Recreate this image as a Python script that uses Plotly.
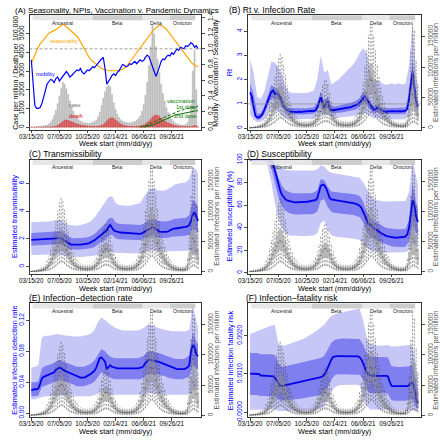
import pandas as pd
import plotly.graph_objects as go

W, H = 440, 440
FONT = "Liberation Sans, Arial, Helvetica, sans-serif"

# ------------------------------------------------------------------ data
START = pd.Timestamp("2020-03-15")
N_WEEKS = 96
week_dates = [START + pd.Timedelta(weeks=i) for i in range(N_WEEKS)]
BAND_WEEKS = list(range(0, 95, 2)) + [95]
band_dates = [week_dates[i] for i in BAND_WEEKS]

x_tick_labels = ["03/15/20", "07/05/20", "10/25/20", "02/14/21", "06/06/21", "09/26/21"]

variant_names = ["Ancestral", "Beta", "Delta", "Omicron"]
variant_edges = ["2020-03-20", "2020-11-15", "2021-06-02", "2021-09-19", "2021-12-29"]

# Panel A (weekly)
cases_per_million = [
    3, 8, 15, 25, 35, 45, 55, 70, 90, 120,
    170, 260, 400, 620, 900, 1250, 1650, 2050, 2400, 2300,
    2050, 1750, 1400, 1100, 850, 650, 500, 400, 330, 280,
    240, 220, 210, 210, 230, 260, 300, 380, 550, 800,
    1150, 1550, 1900, 2150, 2250, 2150, 1750, 1300, 950, 700,
    520, 400, 330, 280, 250, 230, 230, 240, 260, 300,
    360, 450, 600, 850, 1200, 1700, 2400, 3300, 4300, 5450,
    5000, 4300, 3600, 2900, 2300, 1800, 1400, 1050, 780, 580,
    420, 310, 230, 180, 150, 130, 120, 120, 140, 250,
    600, 1200, 3000, 4100, 2000, 0]
deaths_per_100k = [
    0, 0, 0, 0, 1, 1, 2, 3, 4, 6,
    8, 12, 18, 30, 50, 90, 150, 230, 310, 370,
    380, 360, 330, 290, 250, 210, 175, 145, 120, 100,
    85, 70, 60, 52, 47, 45, 45, 48, 55, 70,
    100, 150, 230, 330, 430, 490, 500, 460, 390, 310,
    230, 170, 125, 95, 75, 60, 50, 45, 43, 45,
    50, 58, 70, 90, 120, 170, 240, 330, 430, 530,
    610, 650, 630, 570, 490, 410, 340, 280, 230, 185,
    145, 115, 90, 70, 55, 45, 38, 32, 28, 26,
    30, 40, 55, 75, 90, 0]
seasonality = [
    0.82, 0.86, 0.92, 0.98, 1.02, 1.06, 1.09, 1.12, 1.15, 1.18,
    1.20, 1.21, 1.22, 1.23, 1.24, 1.26, 1.28, 1.30, 1.31, 1.30,
    1.28, 1.26, 1.25, 1.23, 1.21, 1.19, 1.16, 1.13, 1.09, 1.04,
    1.00, 0.96, 0.92, 0.89, 0.86, 0.84, 0.82, 0.80, 0.78, 0.76,
    0.75, 0.74, 0.73, 0.73, 0.72, 0.72, 0.72, 0.72, 0.72, 0.72,
    0.73, 0.73, 0.74, 0.75, 0.77, 0.80, 0.83, 0.86, 0.89, 0.92,
    0.95, 0.98, 1.01, 1.04, 1.07, 1.11, 1.14, 1.17, 1.20, 1.23,
    1.25, 1.27, 1.29, 1.30, 1.30, 1.29, 1.27, 1.25, 1.22, 1.19,
    1.16, 1.13, 1.10, 1.07, 1.04, 1.01, 0.98, 0.94, 0.91, 0.88,
    0.85, 0.83, 0.81, 0.79, 0.78, 0.77]
mobility = [
    0.86, 0.55, 0.28, 0.24, 0.24, 0.25, 0.30, 0.38, 0.47, 0.55,
    0.58, 0.61, 0.60, 0.57, 0.62, 0.64, 0.59, 0.62, 0.65, 0.68,
    0.71, 0.68, 0.64, 0.66, 0.69, 0.71, 0.73, 0.72, 0.75, 0.70,
    0.68, 0.71, 0.73, 0.72, 0.75, 0.77, 0.76, 0.79, 0.82, 0.84,
    0.87, 0.89, 0.75, 0.55, 0.58, 0.62, 0.66, 0.68, 0.66, 0.70,
    0.72, 0.76, 0.80, 0.79, 0.77, 0.78, 0.81, 0.80, 0.82, 0.84,
    0.81, 0.83, 0.86, 0.84, 0.85, 0.89, 0.92, 0.90, 0.84, 0.78,
    0.70, 0.65, 0.70, 0.78, 0.84, 0.87, 0.86, 0.90, 0.92, 0.91,
    0.95, 0.93, 0.97, 1.00, 0.98, 1.02, 1.01, 1.00, 1.04, 1.03,
    1.05, 1.08, 1.06, 1.02, 1.04, 1.00]
DOSE1_START = 62
vacc_dose1 = [
    0.0, 0.005, 0.012, 0.02, 0.03, 0.04, 0.05, 0.06, 0.07, 0.08,
    0.09, 0.10, 0.11, 0.12, 0.13, 0.14, 0.15, 0.16, 0.17, 0.18,
    0.19, 0.20, 0.21, 0.215, 0.22, 0.23, 0.235, 0.24, 0.245, 0.25,
    0.255, 0.26, 0.265, 0.27]
DOSE2_START = 64
vacc_dose2 = [
    0.0, 0.004, 0.008, 0.013, 0.02, 0.028, 0.036, 0.045, 0.055, 0.065,
    0.075, 0.085, 0.095, 0.105, 0.115, 0.125, 0.135, 0.145, 0.155, 0.16,
    0.165, 0.17, 0.175, 0.18, 0.185, 0.19, 0.195, 0.2, 0.2, 0.205,
    0.21, 0.21]

# Estimated infections per million (thousands), weekly box statistics
inf_lo_k = [
    0.05, 0.1, 0.15, 0.2, 0.25, 0.35, 0.5, 0.7, 1, 1.5,
    2.2, 3.5, 5, 7, 9, 12, 14, 16, 15, 13,
    10, 8, 6, 4.5, 3.5, 2.7, 2.1, 1.7, 1.4, 1.3,
    1.2, 1.1, 1.1, 1.2, 1.3, 1.6, 2, 2.7, 3.8, 5.4,
    7.5, 9, 10, 10, 9.5, 8, 6, 4.2, 3, 2.2,
    1.8, 1.5, 1.3, 1.2, 1.1, 1.1, 1.2, 1.3, 1.5, 1.9,
    2.4, 3.2, 4.5, 6.5, 9, 12, 16, 20, 24, 25,
    22, 18, 14, 11, 8.5, 6.5, 5, 4, 3, 2.4,
    1.8, 1.4, 1.1, 0.9, 0.8, 0.7, 0.7, 0.8, 1, 1.8,
    4, 7, 9, 9, 7, 5]
inf_q1_k = [
    0.2, 0.35, 0.5, 0.65, 0.85, 1.1, 1.6, 2.1, 3.2, 5,
    7, 10.5, 15, 20, 25, 30, 35, 38, 36, 31,
    26, 21, 16, 12, 9.3, 7.2, 5.7, 4.7, 4, 3.6,
    3.3, 3.2, 3.2, 3.3, 3.6, 4.3, 5.4, 7.2, 10, 14,
    19, 23, 25, 25, 24, 20, 15, 11, 7.9, 5.8,
    4.7, 4, 3.6, 3.3, 3.2, 3.2, 3.3, 3.6, 4.2, 5,
    6.5, 8.6, 12, 17, 24, 32, 41, 50, 56, 56,
    50, 42, 34, 27, 22, 17, 14, 11, 8.3, 6.5,
    5, 4, 3.2, 2.7, 2.4, 2.2, 2.2, 2.3, 2.9, 5.5,
    12, 22, 30, 28, 20, 13]
inf_med_k = [
    0.3, 0.5, 0.7, 0.9, 1.2, 1.6, 2.2, 3.0, 4.5, 7,
    10, 15, 21, 28, 35, 42, 48, 51, 49, 43,
    36, 29, 22, 17, 13, 10, 8, 6.5, 5.5, 5,
    4.6, 4.4, 4.4, 4.6, 5, 6, 7.5, 10, 14, 20,
    27, 33, 37, 38, 34, 28, 21, 15, 11, 8,
    6.5, 5.5, 5, 4.6, 4.4, 4.4, 4.6, 5, 5.8, 7,
    9, 12, 17, 24, 33, 45, 58, 70, 79, 78,
    69, 58, 47, 38, 30, 24, 19, 15, 11.5, 9,
    7, 5.5, 4.5, 3.8, 3.3, 3, 3, 3.2, 4, 8,
    20, 38, 55, 50, 35, 22]
inf_q3_k = [
    0.4, 0.7, 0.95, 1.2, 1.6, 2.2, 3, 4, 6, 9.5,
    13.5, 20, 28, 38, 47, 57, 65, 70, 66, 58,
    49, 39, 30, 23, 17.5, 13.5, 10.8, 8.8, 7.4, 6.8,
    6.2, 5.9, 5.9, 6.2, 6.8, 8.1, 10, 13.5, 19, 27,
    36, 42, 45, 46, 43, 36, 28, 20, 15, 10.8,
    8.8, 7.4, 6.8, 6.2, 5.9, 5.9, 6.2, 6.8, 7.8, 9.5,
    12, 16, 23, 32, 45, 61, 78, 93, 104, 104,
    93, 78, 63, 51, 40, 32, 26, 20, 15.5, 12,
    9.5, 7.4, 6, 5.1, 4.5, 4, 4, 4.3, 5.4, 11,
    30, 62, 92, 85, 58, 36]
inf_hi_k = [
    1, 1.5, 2, 2.6, 3.4, 4.5, 6.2, 8.5, 12, 18,
    26, 38, 52, 68, 84, 100, 114, 122, 116, 102,
    86, 69, 53, 41, 31, 24, 19, 15.5, 13, 12,
    11, 10.5, 10.5, 11, 12, 14, 17.5, 23, 32, 45,
    58, 70, 77, 78, 71, 59, 45, 33, 24, 18,
    15, 12.5, 11.5, 10.5, 10, 10, 10.5, 11.5, 13, 16,
    20, 27, 38, 54, 75, 100, 127, 152, 170, 168,
    150, 127, 103, 83, 66, 52, 42, 33, 25, 20,
    15.5, 12.5, 10, 8.5, 7.5, 7, 7, 7.5, 9.5, 22,
    65, 125, 175, 160, 110, 70]

# Panel B: Rt
rt_median = [
    1.48, 1.30, 0.85, 0.50, 0.44, 0.45, 0.50, 0.58, 0.75, 0.95,
    1.10, 1.28, 1.50, 1.55, 1.42, 1.42, 1.40, 1.28, 1.05, 0.88,
    0.80, 0.74, 0.70, 0.68, 0.67, 0.69, 0.67, 0.66, 0.68, 0.66,
    0.68, 0.69, 0.67, 0.69, 0.70, 0.71, 0.71, 0.74, 0.85, 1.10,
    1.28, 1.05, 0.82, 1.05, 1.08, 0.80, 0.74, 0.74, 0.75, 0.76,
    0.77, 0.79, 0.80, 0.81, 0.82, 0.84, 0.85, 0.87, 0.90, 0.92,
    0.95, 0.99, 1.05, 1.14, 1.25, 1.32, 1.20, 1.07, 0.95, 0.85,
    0.76, 0.78, 0.86, 0.80, 0.74, 0.71, 0.69, 0.67, 0.69, 0.70,
    0.68, 0.70, 0.69, 0.70, 0.68, 0.70, 0.69, 0.71, 0.72, 0.80,
    1.20, 1.85, 2.30, 1.70, 1.10, 0.90]
rt_95hi = [2.85, 2.3, 1.3, 1.2, 1.5, 2.2, 2.75, 2.7, 2.5, 2.2,
           1.7, 1.5, 1.45, 1.45, 1.45, 1.45, 1.45, 1.5, 1.55, 2.0,
           3.0, 2.3, 2.4, 1.8, 1.9, 2.0, 2.15, 2.3, 2.45, 2.6,
           2.8, 3.1, 3.3, 3.1, 2.4, 1.9, 2.0, 1.9, 1.8, 1.8,
           1.85, 1.8, 1.85, 1.8, 1.85, 2.6, 4.4, 2.2, 1.8]
rt_95lo = [0.55, 0.35, 0.25, 0.28, 0.35, 0.55, 0.8, 0.75, 0.7, 0.5,
           0.42, 0.38, 0.37, 0.37, 0.37, 0.37, 0.37, 0.38, 0.4, 0.5,
           0.65, 0.5, 0.55, 0.45, 0.42, 0.43, 0.45, 0.47, 0.48, 0.5,
           0.52, 0.57, 0.65, 0.6, 0.48, 0.4, 0.42, 0.38, 0.36, 0.36,
           0.36, 0.36, 0.36, 0.36, 0.37, 0.6, 1.1, 0.55, 0.45]
rt_50hi = [1.85, 1.4, 0.6, 0.62, 0.9, 1.3, 1.78, 1.65, 1.6, 1.25,
           0.92, 0.83, 0.82, 0.82, 0.82, 0.82, 0.82, 0.84, 0.86, 1.05,
           1.5, 1.1, 1.3, 0.92, 0.9, 0.93, 0.96, 0.99, 1.03, 1.07,
           1.13, 1.25, 1.5, 1.4, 1.1, 0.92, 0.98, 0.85, 0.82, 0.82,
           0.82, 0.82, 0.82, 0.82, 0.85, 1.45, 2.85, 1.35, 1.1]
rt_50lo = [1.15, 0.75, 0.34, 0.38, 0.58, 0.9, 1.25, 1.2, 1.2, 0.9,
           0.66, 0.58, 0.56, 0.56, 0.56, 0.56, 0.56, 0.58, 0.6, 0.7,
           1.05, 0.65, 0.88, 0.62, 0.62, 0.63, 0.65, 0.68, 0.7, 0.73,
           0.77, 0.87, 1.05, 0.98, 0.76, 0.63, 0.66, 0.6, 0.57, 0.57,
           0.57, 0.57, 0.57, 0.57, 0.59, 1.0, 1.8, 0.9, 0.72]

# Panel C: transmissibility
tr_median = [
    1.93, 1.94, 1.95, 1.95, 1.96, 1.97, 1.98, 1.99, 2.0, 2.0,
    2.01, 2.02, 2.03, 2.04, 2.05, 2.07, 2.08, 2.05, 1.98, 1.88,
    1.78, 1.68, 1.62, 1.58, 1.57, 1.57, 1.58, 1.58, 1.59, 1.6,
    1.61, 1.63, 1.66, 1.7, 1.76, 1.82, 1.9, 2.0, 2.1, 2.22,
    2.35, 2.42, 2.5, 2.62, 2.85, 3.0, 2.8, 2.62, 2.55, 2.5,
    2.48, 2.46, 2.45, 2.44, 2.43, 2.42, 2.41, 2.4, 2.39, 2.38,
    2.37, 2.36, 2.36, 2.4, 2.48, 2.57, 2.65, 2.7, 2.75, 2.85,
    2.82, 2.72, 2.6, 2.52, 2.5, 2.49, 2.48, 2.5, 2.55, 2.62,
    2.7, 2.74, 2.75, 2.76, 2.78, 2.8, 2.82, 2.84, 2.86, 2.9,
    3.0, 3.3, 3.75, 3.93, 3.6, 3.3]
tr_95hi = [3.2, 3.2, 3.2, 3.2, 3.22, 3.25, 3.3, 3.35, 3.4, 3.3,
           3.1, 3.0, 2.95, 2.95, 3.0, 3.05, 3.15, 3.3, 3.55, 3.9,
           4.3, 4.6, 5.0, 5.1, 4.6, 4.45, 4.4, 4.4, 4.4, 4.45,
           4.5, 4.6, 5.0, 5.4, 5.6, 5.7, 5.5, 5.5, 5.5, 5.6,
           5.8, 5.95, 6.0, 6.05, 6.1, 6.3, 7.2, 7.0, 6.7]
tr_95lo = [0.83, 0.83, 0.84, 0.85, 0.85, 0.86, 0.87, 0.88, 0.88, 0.82,
           0.76, 0.72, 0.7, 0.7, 0.7, 0.71, 0.72, 0.74, 0.78, 0.85,
           0.95, 1.0, 1.1, 1.05, 1.0, 0.97, 0.96, 0.95, 0.95, 0.95,
           0.95, 0.96, 1.0, 1.08, 1.15, 1.15, 1.08, 1.05, 1.05, 1.06,
           1.1, 1.12, 1.12, 1.13, 1.14, 1.15, 1.0, 0.85, 0.8]
tr_50hi = [2.43, 2.44, 2.45, 2.46, 2.48, 2.5, 2.52, 2.54, 2.56, 2.5,
           2.3, 2.12, 2.05, 2.05, 2.06, 2.08, 2.12, 2.2, 2.35, 2.6,
           2.9, 3.1, 3.45, 3.55, 3.2, 3.1, 3.07, 3.05, 3.03, 3.02,
           3.0, 3.0, 3.1, 3.3, 3.4, 3.45, 3.3, 3.25, 3.25, 3.3,
           3.4, 3.45, 3.47, 3.5, 3.52, 3.7, 4.8, 4.6, 4.3]
tr_50lo = [1.52, 1.53, 1.54, 1.55, 1.56, 1.57, 1.58, 1.6, 1.62, 1.55,
           1.4, 1.27, 1.22, 1.22, 1.23, 1.25, 1.28, 1.33, 1.42, 1.58,
           1.8, 1.95, 2.2, 2.3, 2.05, 1.98, 1.96, 1.95, 1.94, 1.93,
           1.92, 1.92, 2.0, 2.1, 2.2, 2.25, 2.1, 2.05, 2.05, 2.08,
           2.15, 2.18, 2.2, 2.22, 2.23, 2.3, 2.7, 2.6, 2.4]

# Panel D: susceptibility (%)
su_median = [
    100, 100, 100, 100, 100, 100, 100, 100, 100, 100,
    100, 100, 99, 97, 91, 84, 78, 73, 69, 66.5,
    65, 64, 63.5, 63, 62.6, 62.4, 62.3, 62.3, 62.3, 62.4,
    62.5, 62.7, 62.9, 63.1, 63.3, 63.5, 63.8, 64.3, 66, 72,
    77, 78, 77.5, 75, 70, 66.5, 65, 64.5, 64.2, 64,
    63.8, 63.6, 63.4, 63.2, 63, 62.8, 62.5, 62.2, 61.9, 61.5,
    61, 60.3, 59.3, 57.5, 54, 49.5, 45.5, 43.5, 42, 41,
    40, 38.8, 37.5, 36.3, 35.2, 34.2, 33.4, 32.7, 32.2, 31.8,
    31.5, 31.3, 31.2, 31.1, 31.1, 31.2, 31.4, 31.7, 32.2, 34,
    40, 55, 64.5, 60, 50, 45]
su_95hi = [100, 100, 100, 100, 100, 100, 100, 99.5, 96, 92.5,
           91, 90.5, 90.5, 90.5, 90.5, 90.5, 90.5, 90.5, 90.5, 91.5,
           95, 94, 90, 88.5, 88, 87.5, 87, 86.5, 86, 85.5,
           85, 84, 80, 74, 69, 65, 64, 63.5, 63, 63,
           63, 63, 63, 63, 63.5, 72, 99, 85, 78]
su_95lo = [100, 100, 100, 100, 99.5, 94, 80, 62, 48, 40,
           35, 33, 32.5, 32.5, 32.5, 32.5, 32.5, 32.5, 33, 35,
           44, 46, 38, 33, 32, 31.5, 31.5, 31, 31, 30.5,
           30, 29, 26, 22, 20, 19, 18.5, 18.2, 18, 18,
           18, 18, 18, 18, 18.2, 20, 26, 24, 22]
su_50hi = [100, 100, 100, 100, 100, 100, 99, 93, 84, 77,
           73, 71.5, 70.5, 70.3, 70.2, 70.2, 70.3, 70.5, 71, 73,
           83, 82, 76, 72, 71.5, 71, 70.8, 70.5, 70.2, 69.8,
           69.3, 68, 63, 54, 49, 46, 44, 42, 40.5, 39.5,
           39, 38.5, 38.5, 38.5, 39, 47, 80, 62, 56]
su_50lo = [100, 100, 100, 100, 100, 98, 93, 80, 67, 59,
           55, 53, 52, 51.7, 51.5, 51.5, 51.6, 51.8, 52.3, 54,
           64, 65, 58, 54, 53, 52.5, 52.2, 52, 51.7, 51.3,
           50.7, 49.5, 45, 36, 32, 30, 28.5, 27, 25.5, 24.5,
           23.5, 23, 22.8, 22.8, 23.2, 28, 42, 36, 33]

# Panel E: infection-detection rate
dr_median = [
    0.030, 0.031, 0.031, 0.031, 0.032, 0.038, 0.045, 0.047, 0.048, 0.049,
    0.049, 0.050, 0.051, 0.053, 0.056, 0.058, 0.059, 0.058, 0.056, 0.055,
    0.054, 0.053, 0.052, 0.051, 0.050, 0.048, 0.047, 0.046, 0.046, 0.046,
    0.046, 0.047, 0.048, 0.049, 0.051, 0.053, 0.055, 0.059, 0.064, 0.071,
    0.072, 0.070, 0.067, 0.057, 0.060, 0.062, 0.060, 0.059, 0.059, 0.058,
    0.058, 0.058, 0.058, 0.058, 0.058, 0.058, 0.058, 0.058, 0.058, 0.058,
    0.058, 0.058, 0.059, 0.059, 0.061, 0.065, 0.067, 0.069, 0.069, 0.068,
    0.068, 0.067, 0.067, 0.066, 0.066, 0.065, 0.064, 0.062, 0.061, 0.060,
    0.059, 0.058, 0.058, 0.057, 0.057, 0.057, 0.057, 0.057, 0.058, 0.059,
    0.062, 0.080, 0.088, 0.085, 0.076, 0.074]
dr_95hi = [0.059, 0.060, 0.062, 0.098, 0.100, 0.100, 0.101, 0.102, 0.102, 0.101,
           0.100, 0.100, 0.099, 0.099, 0.099, 0.100, 0.101, 0.103, 0.108, 0.118,
           0.124, 0.120, 0.116, 0.113, 0.110, 0.108, 0.107, 0.107, 0.107, 0.107,
           0.107, 0.108, 0.110, 0.114, 0.114, 0.112, 0.110, 0.109, 0.108, 0.107,
           0.106, 0.106, 0.106, 0.106, 0.106, 0.108, 0.140, 0.120, 0.110]
dr_95lo = [0.018, 0.018, 0.019, 0.021, 0.022, 0.022, 0.022, 0.023, 0.023, 0.023,
           0.023, 0.022, 0.022, 0.022, 0.022, 0.022, 0.022, 0.022, 0.023, 0.025,
           0.027, 0.026, 0.025, 0.024, 0.024, 0.024, 0.024, 0.024, 0.024, 0.024,
           0.024, 0.024, 0.024, 0.026, 0.026, 0.025, 0.025, 0.025, 0.024, 0.024,
           0.024, 0.024, 0.024, 0.024, 0.024, 0.024, 0.030, 0.030, 0.029]
dr_50hi = [0.040, 0.040, 0.041, 0.058, 0.061, 0.062, 0.064, 0.067, 0.069, 0.067,
           0.065, 0.064, 0.062, 0.060, 0.060, 0.060, 0.062, 0.064, 0.068, 0.076,
           0.083, 0.080, 0.075, 0.072, 0.071, 0.071, 0.071, 0.071, 0.071, 0.071,
           0.071, 0.072, 0.074, 0.079, 0.080, 0.079, 0.078, 0.077, 0.075, 0.073,
           0.071, 0.070, 0.070, 0.070, 0.071, 0.075, 0.105, 0.092, 0.089]
dr_50lo = [0.022, 0.022, 0.023, 0.034, 0.036, 0.037, 0.039, 0.041, 0.043, 0.042,
           0.040, 0.039, 0.037, 0.035, 0.035, 0.035, 0.036, 0.038, 0.041, 0.047,
           0.053, 0.050, 0.047, 0.045, 0.044, 0.044, 0.044, 0.044, 0.044, 0.044,
           0.044, 0.044, 0.046, 0.050, 0.051, 0.050, 0.050, 0.049, 0.048, 0.046,
           0.045, 0.044, 0.044, 0.044, 0.045, 0.047, 0.062, 0.058, 0.056]

# Panel F: infection-fatality risk
ifr_median = [
    0.00101, 0.00101, 0.00101, 0.00101, 0.00101, 0.00100, 0.00096, 0.00095, 0.00095, 0.00095,
    0.00095, 0.00095, 0.00095, 0.00094, 0.00090, 0.00082, 0.00075, 0.00069, 0.00068, 0.00070,
    0.00071, 0.00072, 0.00073, 0.00074, 0.00075, 0.00076, 0.00077, 0.00078, 0.00079, 0.00080,
    0.00081, 0.00082, 0.00083, 0.00084, 0.00085, 0.00086, 0.00087, 0.00088, 0.00089, 0.00090,
    0.00092, 0.00094, 0.00098, 0.00106, 0.00117, 0.00128, 0.00138, 0.00145, 0.00147, 0.00147,
    0.00147, 0.00147, 0.00147, 0.00147, 0.00147, 0.00146, 0.00146, 0.00146, 0.00146, 0.00146,
    0.00146, 0.00146, 0.00144, 0.00138, 0.00128, 0.00115, 0.00104, 0.00098, 0.00096, 0.00095,
    0.00096, 0.00095, 0.00096, 0.00095, 0.00095, 0.00096, 0.00095, 0.00095, 0.00094, 0.00080,
    0.00069, 0.00068, 0.00068, 0.00068, 0.00068, 0.00068, 0.00068, 0.00068, 0.00068, 0.00068,
    0.00070, 0.00076, 0.00077, 0.00060, 0.00035, 0.00023]
ifr_95hi = [0.00205, 0.00209, 0.00213, 0.00217, 0.00221, 0.00224, 0.00227, 0.00228, 0.00180, 0.00172,
            0.00175, 0.00178, 0.00181, 0.00184, 0.00188, 0.00192, 0.00197, 0.00202, 0.00208, 0.00215,
            0.00222, 0.00230, 0.00242, 0.00252, 0.00257, 0.00260, 0.00262, 0.00264, 0.00266, 0.00268,
            0.00270, 0.00272, 0.00240, 0.00195, 0.00178, 0.00175, 0.00174, 0.00174, 0.00175, 0.00176,
            0.00172, 0.00172, 0.00173, 0.00174, 0.00175, 0.00176, 0.00175, 0.00120, 0.00090]
ifr_95lo = [0.00006, 0.00006, 0.00006, 0.00006, 0.00006, 0.00006, 0.00007, 0.00008, 0.00003, 0.00002,
            0.00002, 0.00002, 0.00003, 0.00003, 0.00003, 0.00004, 0.00004, 0.00005, 0.00005, 0.00006,
            0.00008, 0.00015, 0.00035, 0.00055, 0.00065, 0.00070, 0.00071, 0.00072, 0.00072, 0.00072,
            0.00072, 0.00070, 0.00045, 0.00015, 0.00007, 0.00006, 0.00006, 0.00006, 0.00006, 0.00006,
            0.00004, 0.00004, 0.00004, 0.00004, 0.00004, 0.00004, 0.00005, 0.00002, 0.00002]
ifr_50hi = [0.00155, 0.00155, 0.00155, 0.00152, 0.00152, 0.00152, 0.00152, 0.00150, 0.00128, 0.00118,
            0.00121, 0.00123, 0.00125, 0.00127, 0.00129, 0.00131, 0.00133, 0.00135, 0.00137, 0.00139,
            0.00142, 0.00148, 0.00165, 0.00182, 0.00190, 0.00192, 0.00193, 0.00193, 0.00193, 0.00193,
            0.00193, 0.00192, 0.00178, 0.00155, 0.00145, 0.00145, 0.00145, 0.00145, 0.00144, 0.00144,
            0.00120, 0.00118, 0.00118, 0.00118, 0.00119, 0.00120, 0.00125, 0.00075, 0.00055]
ifr_50lo = [0.00045, 0.00045, 0.00045, 0.00042, 0.00042, 0.00042, 0.00041, 0.00040, 0.00034, 0.00030,
            0.00031, 0.00032, 0.00033, 0.00034, 0.00035, 0.00036, 0.00038, 0.00040, 0.00042, 0.00043,
            0.00045, 0.00050, 0.00065, 0.00085, 0.00097, 0.00099, 0.00099, 0.00099, 0.00099, 0.00099,
            0.00098, 0.00098, 0.00085, 0.00060, 0.00050, 0.00050, 0.00050, 0.00050, 0.00049, 0.00048,
            0.00032, 0.00030, 0.00030, 0.00030, 0.00030, 0.00031, 0.00034, 0.00012, 0.00008]

for arr in [cases_per_million, deaths_per_100k, seasonality, mobility, inf_lo_k, inf_q1_k,
            inf_med_k, inf_q3_k, inf_hi_k, rt_median, tr_median, su_median, dr_median, ifr_median]:
    assert len(arr) == N_WEEKS, len(arr)
for arr in [rt_95hi, rt_95lo, rt_50hi, rt_50lo, tr_95hi, tr_95lo, tr_50hi, tr_50lo,
            su_95hi, su_95lo, su_50hi, su_50lo, dr_95hi, dr_95lo, dr_50hi, dr_50lo,
            ifr_95hi, ifr_95lo, ifr_50hi, ifr_50lo]:
    assert len(arr) == len(BAND_WEEKS), len(arr)
assert len(vacc_dose1) == N_WEEKS - DOSE1_START
assert len(vacc_dose2) == N_WEEKS - DOSE2_START

# ------------------------------------------------------------------ helpers
K = 1000.0
WEEK_MS = 7 * 24 * 3600 * 1000


def wk(x):
    return (START + pd.Timedelta(days=7 * x)).strftime("%Y-%m-%d %H:%M")


def fx(px):
    return px / W


def fy(py):
    return 1 - py / H


x_tick_vals = [pd.to_datetime(t, format="%m/%d/%y").strftime("%Y-%m-%d") for t in x_tick_labels]

fig = go.Figure()
layout = dict(width=W, height=H, margin=dict(l=0, r=0, t=0, b=0), autosize=False,
              paper_bgcolor="white", plot_bgcolor="white", showlegend=False,
              barmode="overlay", hovermode=False,
              font=dict(family=FONT, size=7, color="black"))
annotations = []
shapes = []

BLUE = "#0000EE"
LIGHT_BAND = "#C7C7F7"
DARK_BAND = "#7F7FEF"
GREY_TXT = "#555555"


def add_text(text, px, py, size, color="black", angle=0, xanchor="center", yanchor="middle"):
    annotations.append(dict(text=text, x=fx(px), y=fy(py), xref="paper", yref="paper",
                            showarrow=False, textangle=angle, xanchor=xanchor, yanchor=yanchor,
                            font=dict(size=size, color=color, family=FONT)))


def make_axes(n, box, xr, lrange, lticks, ltext, lcolor, rrange, rticks, rtext, rcolor):
    x0, y0, x1, y1 = box
    ly, ry = 2 * n - 1, 2 * n
    xa = "xaxis" if n == 1 else f"xaxis{n}"
    lya = "yaxis" if ly == 1 else f"yaxis{ly}"
    rya = f"yaxis{ry}"
    xref = "x" if n == 1 else f"x{n}"
    lref = "y" if ly == 1 else f"y{ly}"
    rref = f"y{ry}"
    common = dict(ticks="outside", ticklen=2.5, tickwidth=0.7, tickcolor="black",
                  showline=True, linewidth=0.8, linecolor="black", showgrid=False,
                  zeroline=False, fixedrange=True)
    layout[xa] = dict(domain=[fx(x0), fx(x1)], anchor=lref, type="date", range=xr,
                      tickmode="array", tickvals=x_tick_vals, ticktext=x_tick_labels,
                      tickangle=0, tickfont=dict(size=6.3, color="black"), mirror=True,
                      ticklabelstandoff=-2, **common)
    layout[lya] = dict(domain=[fy(y1), fy(y0)], anchor=xref, range=lrange, side="left",
                       tickmode="array", tickvals=lticks, ticktext=ltext, tickangle=-90,
                       tickfont=dict(size=6.5, color=lcolor), **common)
    layout[rya] = dict(overlaying=lref, anchor=xref, range=rrange, side="right",
                       tickmode="array", tickvals=rticks, ticktext=rtext, tickangle=-90,
                       tickfont=dict(size=6.5, color=rcolor), **common)
    return xref, lref, rref


def add_variants(xref, lref):
    fills = ["#E3E3E3", "#C8C8C8", "#E3E3E3", "#C8C8C8"]
    for name, a, b, c in zip(variant_names, variant_edges[:-1], variant_edges[1:], fills):
        shapes.append(dict(type="rect", xref=xref, yref=f"{lref} domain", x0=a, x1=b,
                           y0=0.952, y1=0.996, fillcolor=c, opacity=0.9,
                           line=dict(width=0), layer="above"))
        mid = pd.Timestamp(a) + (pd.Timestamp(b) - pd.Timestamp(a)) / 2
        annotations.append(dict(text=name, x=mid.strftime("%Y-%m-%d"), xref=xref,
                                y=0.974, yref=f"{lref} domain", showarrow=False,
                                font=dict(size=5, color="#222", family=FONT)))


def add_band(xref, yref, lo, hi, color):
    fig.add_trace(go.Scatter(x=band_dates + band_dates[::-1], y=list(hi) + list(lo)[::-1],
                             fill="toself", fillcolor=color, mode="lines",
                             line=dict(width=0), xaxis=xref, yaxis=yref))


def add_infections(xref, yref):
    cap = pd.Timedelta(days=1.3)
    half = pd.Timedelta(days=2.3)
    wx, wy, cx, cy, mx, my = [], [], [], [], [], []
    for d, lo, q1, md, q3, hi in zip(week_dates, inf_lo_k, inf_q1_k, inf_med_k, inf_q3_k, inf_hi_k):
        wx += [d, d, None, d, d, None]
        wy += [lo * K, q1 * K, None, q3 * K, hi * K, None]
        cx += [d - cap, d + cap, None, d - cap, d + cap, None]
        cy += [lo * K, lo * K, None, hi * K, hi * K, None]
        mx += [d - half, d + half, None]
        my += [md * K, md * K, None]
    fig.add_trace(go.Bar(x=week_dates, y=[(b - a) * K for a, b in zip(inf_q1_k, inf_q3_k)],
                         base=[a * K for a in inf_q1_k], width=0.65 * WEEK_MS,
                         marker=dict(color="rgba(175,175,175,0.55)",
                                     line=dict(color="rgba(100,100,100,0.8)", width=0.4)),
                         xaxis=xref, yaxis=yref))
    fig.add_trace(go.Scatter(x=wx, y=wy, mode="lines", xaxis=xref, yaxis=yref,
                             line=dict(color="#4d4d4d", width=0.6, dash="2px,1.6px")))
    fig.add_trace(go.Scatter(x=cx, y=cy, mode="lines", xaxis=xref, yaxis=yref,
                             line=dict(color="#5a5a5a", width=0.5)))
    fig.add_trace(go.Scatter(x=mx, y=my, mode="lines", xaxis=xref, yaxis=yref,
                             line=dict(color="#333333", width=0.8)))


XR_L = [wk(-1), wk(97)]
XR_R = [wk(-1.5), wk(97)]
INF_RANGE = [-3500, 186000]
INF_TICKS = [0, 50000, 100000, 150000]
INF_TEXT = ["0", "50000", "100000", "150000"]

# ------------------------------------------------------------------ Panel A
boxA = (20, 9, 196, 127)
xa, ya, ya2 = make_axes(1, boxA, XR_L, [-157, 6008], [0, 1000, 2000, 3000, 4000, 5000],
                        ["0", "1000", "2000", "3000", "4000", "5000"], "black",
                        [-0.037, 1.434], [0, 0.2, 0.4, 0.6, 0.8, 1.0, 1.2, 1.4],
                        ["0.0", "0.2", "0.4", "0.6", "0.8", "1.0", "1.2", "1.4"], "black")
fig.add_trace(go.Bar(x=week_dates, y=cases_per_million, width=0.6 * WEEK_MS,
                     marker=dict(color="#CDCDCD", line=dict(color="#9C9C9C", width=0.4)),
                     xaxis=xa, yaxis=ya))
fig.add_trace(go.Bar(x=week_dates, y=deaths_per_100k, width=0.6 * WEEK_MS,
                     marker=dict(color="rgba(235,80,80,0.75)", line=dict(color="#D42020", width=0.4)),
                     xaxis=xa, yaxis=ya))
shapes.append(dict(type="line", xref="x domain", x0=0, x1=1, yref=ya2, y0=1, y1=1,
                   line=dict(color="#777", width=0.7, dash="3px,2px"), layer="above"))
fig.add_trace(go.Scatter(x=week_dates, y=seasonality, mode="lines",
                         line=dict(color="#FFA500", width=1.2), xaxis=xa, yaxis=ya2))
fig.add_trace(go.Scatter(x=week_dates, y=mobility, mode="lines",
                         line=dict(color="#0000FF", width=1.2), xaxis=xa, yaxis=ya2))
fig.add_trace(go.Scatter(x=week_dates[DOSE1_START:], y=vacc_dose1, mode="lines",
                         line=dict(color="#007000", width=1.0, dash="3px,2px"), xaxis=xa, yaxis=ya2))
fig.add_trace(go.Scatter(x=week_dates[DOSE2_START:], y=vacc_dose2, mode="lines",
                         line=dict(color="#007000", width=1.0), xaxis=xa, yaxis=ya2))
add_variants(xa, ya)
add_text("seasonality", 55, 36, 5.5, "#FFA500")
add_text("mobility", 36, 70, 5.5, "#0000FF")
add_text("case", 67, 101, 5.5, "#6E6E6E")
add_text("death", 68, 113, 5.5, "#E00000")
add_text("vaccination:", 193, 97, 5.5, "#007A00", xanchor="right")
add_text("1st dose", 193, 103.5, 5.5, "#007A00", xanchor="right")
add_text("2nd dose", 193, 113, 5.5, "#007A00", xanchor="right")
add_text("(A) Seasonality, NPIs, Vaccination v. Pandemic Dynamics", 3, 4.5, 8.0, xanchor="left")
add_text("Case per million / Death per 100,000", 6.5, 68, 7, angle=-90)
add_text("Mobility / Vaccination / Seasonality", 211, 68, 7, angle=-90)
add_text("Week start (mm/dd/yy)", 108, 140.5, 7.3)

# ------------------------------------------------------------------ Panels B-F
model_panels = [
    dict(n=2, box=(243, 9, 421, 127), xr=XR_R, lrange=[-0.08, 4.68],
         lticks=[0, 1, 2, 3, 4], ltext=["0", "1", "2", "3", "4"],
         med=rt_median, b95=(rt_95lo, rt_95hi), b50=(rt_50lo, rt_50hi),
         title="(B) Rt v. Infection Rate", tpos=(222, 4.5), ylab="Rt", lx=225, rx=435.5,
         hline=1.0, xt=140.5),
    dict(n=3, box=(20, 157, 196, 274), xr=XR_L, lrange=[-0.52, 7.74],
         lticks=[0, 2, 4, 6], ltext=["0", "2", "4", "6"],
         med=tr_median, b95=(tr_95lo, tr_95hi), b50=(tr_50lo, tr_50hi),
         title="(C) Transmissibility", tpos=(17, 151.5), ylab="Estimated transmissibility",
         lx=4.5, rx=211, hline=None, xt=289),
    dict(n=4, box=(243, 157, 421, 274), xr=XR_R, lrange=[-0.8, 100.3],
         lticks=[0, 20, 40, 60, 80, 100], ltext=["0", "20", "40", "60", "80", "100"],
         med=su_median, b95=(su_95lo, su_95hi), b50=(su_50lo, su_50hi),
         title="(D) Susceptibility", tpos=(240, 151.5), ylab="Estimated susceptibility (%)",
         lx=225, rx=435.5, hline=None, xt=289),
    dict(n=5, box=(20, 304, 196, 421), xr=XR_L, lrange=[-0.0054, 0.1423],
         lticks=[0, 0.04, 0.08, 0.12], ltext=["0.00", "0.04", "0.08", "0.12"],
         med=dr_median, b95=(dr_95lo, dr_95hi), b50=(dr_50lo, dr_50hi),
         title="(E) Infection\u2212detection rate", tpos=(17, 298.5),
         ylab="Estimated infection detection rate", lx=4.5, rx=211, hline=None, xt=435.5),
    dict(n=6, box=(243, 304, 421, 421), xr=XR_R, lrange=[-0.00014, 0.00286],
         lticks=[0, 0.001, 0.002], ltext=["0.0000", "0.0010", "0.0020"],
         med=ifr_median, b95=(ifr_95lo, ifr_95hi), b50=(ifr_50lo, ifr_50hi),
         title="(F) Infection\u2212fatality risk", tpos=(239, 298.5),
         ylab="Estimated infection fatality risk", lx=225, rx=435.5, hline=None, xt=435.5),
]

for p in model_panels:
    xr_, lr_, rr_ = make_axes(p["n"], p["box"], p["xr"], p["lrange"], p["lticks"], p["ltext"],
                              "#0000FF", INF_RANGE, INF_TICKS, INF_TEXT, GREY_TXT)
    add_band(xr_, lr_, p["b95"][0], p["b95"][1], LIGHT_BAND)
    add_band(xr_, lr_, p["b50"][0], p["b50"][1], DARK_BAND)
    fig.add_trace(go.Scatter(x=week_dates, y=p["med"], mode="lines",
                             line=dict(color=BLUE, width=1.8), xaxis=xr_, yaxis=lr_))
    add_infections(xr_, rr_)
    if p["hline"] is not None:
        shapes.append(dict(type="line", xref=f"{xr_} domain", x0=0, x1=1, yref=lr_,
                           y0=p["hline"], y1=p["hline"], line=dict(color="#8a8a8a", width=0.7),
                           layer="above"))
    add_variants(xr_, lr_)
    x0, y0, x1, y1 = p["box"]
    yc = (y0 + y1) / 2
    add_text(p["title"], p["tpos"][0], p["tpos"][1], 8.6, xanchor="left")
    add_text(p["ylab"], p["lx"], yc, 7.4, "#0000FF", angle=-90)
    add_text("Estimated infections per million", p["rx"], yc, 7.2, GREY_TXT, angle=-90)
    add_text("Week start (mm/dd/yy)", (x0 + x1) / 2, p["xt"], 7.3)

layout["annotations"] = annotations
layout["shapes"] = shapes
fig.update_layout(**layout)
fig.write_html("out.html", config={"displayModeBar": False, "staticPlot": True},
               post_script="document.body.style.margin='0px';document.body.style.overflow='hidden';")
